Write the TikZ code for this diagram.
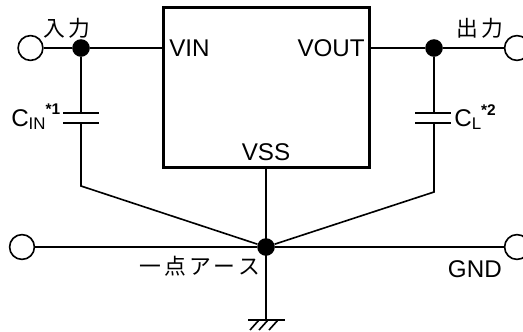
\documentclass[tikz,border=0pt]{standalone}
\usepackage{fontspec}
\setmainfont{Liberation Sans}
\newfontfamily\cjk[LetterSpace=16]{Noto Sans CJK JP}
\usetikzlibrary{positioning,calc}
\tikzset{
    wire/.style={line width=1.15pt},
    term/.style={draw, circle, fill=white, line width=1.15pt, minimum size=0.62cm, inner sep=0pt},
    dot/.style={fill=black, circle, minimum size=0.44cm, inner sep=0pt},
    lbl/.style={font=\fontsize{17.2}{19}\selectfont, inner sep=0pt},
    jlbl/.style={font=\cjk\fontsize{15.5}{18}\selectfont, inner sep=0pt},
    plate/.style={line width=1.3pt}
}
\begin{document}
\begin{tikzpicture}[x=0.025cm, y=-0.025cm]
    \useasboundingbox (0,0) rectangle (523,331);

    % IC body
    \node[draw, line width=2.4pt, minimum width=5.16cm, minimum height=4cm, inner sep=0pt] (ic) at (266.5,87.5) {};
    \node[lbl, anchor=west] (vin) at (169,48) {VIN};
    \node[lbl, anchor=east] (vout) at (365,48) {VOUT};
    \node[lbl, anchor=south] (vss) at (266,161) {VSS};

    % Terminals and junctions
    \node[term] (interm) at (30.5,48) {};
    \node[term] (outterm) at (517,48) {};
    \node[term] (gndl) at (22,247) {};
    \node[term] (gndr) at (517,247) {};
    \node[dot] (indot) at (81,48) {};
    \node[dot] (outdot) at (434,48) {};
    \node[dot] (gnddot) at (266,247) {};

    % Input and output part
    \draw[wire] (interm) -- (indot) -- (indot -| ic.west);
    \draw[wire] (outdot -| ic.east) -- (outdot) -- (outterm);
    \draw[wire] (gndl) -- (gnddot) -- (gndr);

    % Input capacitor
    \coordinate (cinb) at (81,186);
    \coordinate (cint) at (81,113);
    \coordinate (cinl) at (81,123);
    \draw[wire] (indot) -- (cint);
    \draw[plate] (63,113) -- (99,113);
    \draw[plate] (63,123) -- (99,123);
    \draw[wire] (cinl) -- (cinb) -- (gnddot);

    % Output capacitor
    \coordinate (clb) at (434,192);
    \coordinate (clt) at (434,113);
    \coordinate (cll) at (434,123);
    \draw[wire] (outdot) -- (clt);
    \draw[plate] (415,113) -- (451,113);
    \draw[plate] (415,123) -- (451,123);
    \draw[wire] (cll) -- (clb) -- (gnddot);

    % Ground
    \coordinate (gnd) at (266,320);
    \draw[wire] (ic.south -| gnddot) -- (gnd);
    \draw[wire] (248,320) -- (285,320);
    \foreach \x in {259,268,278} \draw[wire] (\x,320) -- (\x-9,330);

    % Labels
    \node[jlbl, anchor=west] (inlbl) at (43,28) {入力};
    \node[jlbl, anchor=west] (outlbl) at (456,28) {出力};
    \node[jlbl, anchor=west] (earth) at (139,266) {一点アース};
    \node[lbl, anchor=east] (gndlbl) at (502,269) {GND};
    \node[lbl, anchor=west] (cin) at (11,117) {C\raisebox{-2pt}{\fontsize{12}{13}\selectfont IN}\raisebox{8.5pt}{\fontsize{11}{12}\selectfont\bfseries *1}};
    \node[lbl, anchor=west] (cl) at (454,117) {C\raisebox{-2pt}{\fontsize{12}{13}\selectfont L}\raisebox{8.5pt}{\fontsize{11}{12}\selectfont\bfseries *2}};
\end{tikzpicture}
\end{document}
